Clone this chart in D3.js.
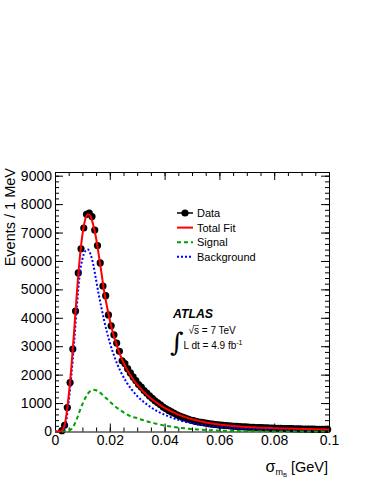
<!DOCTYPE html>
<html lang="en">
<head>
<meta charset="utf-8">
<title>sigma mB fit</title>
<script src="https://cdnjs.cloudflare.com/ajax/libs/d3/7.8.5/d3.min.js"></script>
<style>
  body { margin: 0; background: #fff; }
  svg { display: block; font-family: "Liberation Sans", Arial, sans-serif; }
</style>
</head>
<body>
<div id="chart"></div>
<script>
// data points: bin centres (MeV) and events per 1 MeV bin
const dataMeV = [2.5, 3.5, 4.5, 5.5, 6.5, 7.5, 8.5, 9.5, 10.5, 11.5, 12.5, 13.5, 14.5, 15.5, 16.5, 17.5, 18.5, 19.5,
  20.5, 21.5, 22.5, 23.5, 24.5, 25.5, 26.5, 27.5, 28.5, 29.5, 30.5, 31.5, 32.5, 33.5, 34.5, 35.5, 36.5, 37.5, 38.5, 39.5,
  40.5, 41.5, 42.5, 43.5, 44.5, 45.5, 46.5, 47.5, 48.5, 49.5, 50.5, 51.5, 52.5, 53.5, 54.5, 55.5, 56.5, 57.5, 58.5, 59.5,
  60.5, 61.5, 62.5, 63.5, 64.5, 65.5, 66.5, 67.5, 68.5, 69.5, 70.5, 71.5, 72.5, 73.5, 74.5, 75.5, 76.5, 77.5, 78.5, 79.5,
  80.5, 81.5, 82.5, 83.5, 84.5, 85.5, 86.5, 87.5, 88.5, 89.5, 90.5, 91.5, 92.5, 93.5, 94.5, 95.5, 96.5, 97.5, 98.5, 99.5];
const dataEvents = [30, 220, 840, 1720, 2900, 4240, 5580, 6430, 7160, 7640, 7680, 7560, 7090, 6540, 5930, 5120, 4780, 4100,
  3720, 3400, 3110, 2820, 2490, 2390, 2210, 2060, 1920, 1790, 1650, 1560, 1440, 1350, 1250, 1170, 1080, 1010, 940, 860,
  800, 740, 690, 640, 585, 545, 505, 470, 440, 405, 380, 355, 335, 318, 300, 286, 270, 258, 246, 236,
  224, 216, 206, 199, 192, 184, 178, 171, 166, 160, 156, 150, 146, 141, 137, 133, 128, 125, 121, 118,
  115, 111, 109, 106, 103, 100, 98, 95, 93, 91, 88, 86, 84, 83, 81, 79, 77, 76, 74, 72];

const totalMeV = [0, 2, 3, 4, 5, 6, 7, 8, 9, 10, 11, 12, 13, 14, 15, 16, 17, 18, 19, 20, 21, 22, 23, 24, 25, 26, 27, 28, 29, 30,
  32, 34, 36, 38, 40, 42, 44, 46, 48, 50, 55, 60, 65, 70, 75, 80, 85, 90, 95, 100];
const totalEvents = [0, 0, 90, 480, 1260, 2300, 3560, 4900, 6060, 6920, 7450, 7640, 7560, 7250, 6800, 6200, 5550, 4900, 4380, 3920,
  3530, 3190, 2900, 2640, 2420, 2230, 2060, 1910, 1770, 1650, 1430, 1250, 1090, 955, 835, 730, 640, 560, 490, 430,
  320, 245, 195, 160, 135, 117, 103, 91, 81, 73];

const signalMeV = [0, 4, 5, 6, 7, 8, 9, 10, 11, 12, 13, 14, 15, 16, 17, 18, 19, 20, 22, 24, 26, 28, 30, 32, 34, 36, 38, 40,
  44, 48, 52, 56, 60, 65, 70, 80, 100];
const signalEvents = [0, 0, 25, 90, 230, 450, 720, 960, 1170, 1330, 1430, 1465, 1450, 1400, 1320, 1230, 1140, 1050, 880, 740,
  615, 520, 470, 405, 345, 295, 250, 210, 150, 105, 72, 48, 30, 17, 10, 3, 0];

const bkgMeV = [0, 3, 4, 5, 6, 7, 8, 9, 10, 11, 12, 13, 14, 15, 16, 17, 18, 19, 20, 21, 22, 23, 24, 26, 28, 30, 32, 34, 36, 38,
  40, 42, 45, 50, 55, 60, 65, 70, 80, 90, 100];
const bkgEvents = [0, 50, 320, 1050, 2000, 3150, 4450, 5500, 6060, 6340, 6400, 6230, 5860, 5330, 4800, 4330, 3880, 3480, 3130,
  2820, 2550, 2310, 2100, 1750, 1470, 1250, 1070, 920, 790, 680, 590, 510, 410, 290, 210, 160, 125, 100, 70, 52, 40];

const xTicks = [0, 0.02, 0.04, 0.06, 0.08, 0.1];
const xTickLabels = ["0", "0.02", "0.04", "0.06", "0.08", "0.1"];
const yTicks = [0, 1000, 2000, 3000, 4000, 5000, 6000, 7000, 8000, 9000];
const legendLabels = ["Data", "Total Fit", "Signal", "Background"];

const w = 374, h = 484;
const svg = d3.select("#chart").append("svg").attr("width", w).attr("height", h);

const x = d3.scaleLinear().domain([0, 0.1]).range([55, 329]);
const y = d3.scaleLinear().domain([0, 9130]).range([431.5, 172]);

// axes (ROOT style, ticks pointing inward, full frame)
const xMinor = d3.range(0, 0.1001, 0.005);
const yMinor = d3.range(0, 9101, 200);

function addAxis(gen, tr, ticks, size, fmt, keepDomain) {
  const g = svg.append("g").attr("transform", tr)
    .call(gen.tickValues(ticks).tickSize(size).tickSizeOuter(0).tickFormat(fmt));
  if (!keepDomain) g.select(".domain").remove();
  g.selectAll("text").attr("fill", "#000");
  g.selectAll("line,path").attr("stroke", "#000");
  return g;
}
addAxis(d3.axisBottom(x).tickPadding(4), "translate(0,431.5)", xTicks, -8, (d, i) => xTickLabels[i], true)
  .attr("font-size", 14).attr("font-family", null);
addAxis(d3.axisBottom(x), "translate(0,431.5)", xMinor, -4, "", false);
addAxis(d3.axisTop(x), "translate(0,172)", xTicks, -8, "", true);
addAxis(d3.axisTop(x), "translate(0,172)", xMinor, -4, "", false);
addAxis(d3.axisLeft(y).tickPadding(3), "translate(55,0)", yTicks, -8, d3.format("d"), true)
  .attr("font-size", 14).attr("font-family", null);
addAxis(d3.axisLeft(y), "translate(55,0)", yMinor, -4, "", false);
addAxis(d3.axisRight(y), "translate(329,0)", yTicks, -8, "", true);
addAxis(d3.axisRight(y), "translate(329,0)", yMinor, -4, "", false);

// data markers
svg.append("g").selectAll("circle")
  .data(dataMeV)
  .enter().append("circle")
  .attr("cx", d => x(d / 1000))
  .attr("cy", (d, i) => y(dataEvents[i]))
  .attr("r", 3.6)
  .attr("fill", "#000");

// curves
const line = d3.line().x(d => x(d[0] / 1000)).y(d => y(d[1])).curve(d3.curveMonotoneX);
function curve(xs, ys, color, dash) {
  svg.append("path")
    .datum(xs.map((v, i) => [v, ys[i]]))
    .attr("d", line)
    .attr("fill", "none")
    .attr("stroke", color)
    .attr("stroke-width", 2)
    .attr("stroke-dasharray", dash);
}
curve(bkgMeV, bkgEvents, "#0000ff", "2,2");
curve(signalMeV, signalEvents, "#00a000", "4,3");
curve(totalMeV, totalEvents, "#ff0000", null);

// legend
const legStyle = [
  {color: "#000", dash: null, marker: true},
  {color: "#ff0000", dash: null},
  {color: "#00a000", dash: "4,3"},
  {color: "#0000ff", dash: "2,2"}
];
const leg = svg.append("g").attr("transform", "translate(177,213)");
legendLabels.forEach((lab, i) => {
  const gy = i * 14.6;
  const s = legStyle[i];
  leg.append("line").attr("x1", 0).attr("x2", 16).attr("y1", gy).attr("y2", gy)
    .attr("stroke", s.color).attr("stroke-width", s.marker ? 1.5 : 2).attr("stroke-dasharray", s.dash);
  if (s.marker) leg.append("circle").attr("cx", 8).attr("cy", gy).attr("r", 3.6).attr("fill", "#000");
  leg.append("text").attr("x", 20).attr("y", gy + 4).attr("font-size", 11).text(lab);
});

// ATLAS label
svg.append("text").attr("x", 173).attr("y", 318).attr("font-size", 12.3)
  .attr("font-weight", "bold").attr("font-style", "italic").text("ATLAS");
svg.append("text").attr("x", 170).attr("y", 351).attr("font-size", 26)
  .attr("font-family", "DejaVu Serif").text("\u222B");
svg.append("text").attr("x", 188.5).attr("y", 334).attr("font-size", 10).text("\u221As = 7 TeV");
svg.append("line").attr("x1", 193).attr("x2", 199).attr("y1", 325.5).attr("y2", 325.5)
  .attr("stroke", "#000").attr("stroke-width", 0.6);
const lum = svg.append("text").attr("x", 183.5).attr("y", 348.5).attr("font-size", 10);
lum.append("tspan").text("L dt = 4.9 fb");
lum.append("tspan").attr("dy", -4).attr("font-size", 7).text("-1");

// axis titles
svg.append("text").attr("transform", "translate(15,168) rotate(-90)")
  .attr("text-anchor", "end").attr("font-size", 14.5).text("Events / 1 MeV");
const xt = svg.append("text").attr("x", 328).attr("y", 471.5).attr("text-anchor", "end").attr("font-size", 14.5);
xt.append("tspan").attr("font-size", 16).text("\u03C3");
xt.append("tspan").attr("dy", 3).attr("font-size", 9).text("m");
xt.append("tspan").attr("dy", 2).attr("font-size", 6).text("B");
xt.append("tspan").attr("dy", -5).text(" [GeV]");
</script>
</body>
</html>
